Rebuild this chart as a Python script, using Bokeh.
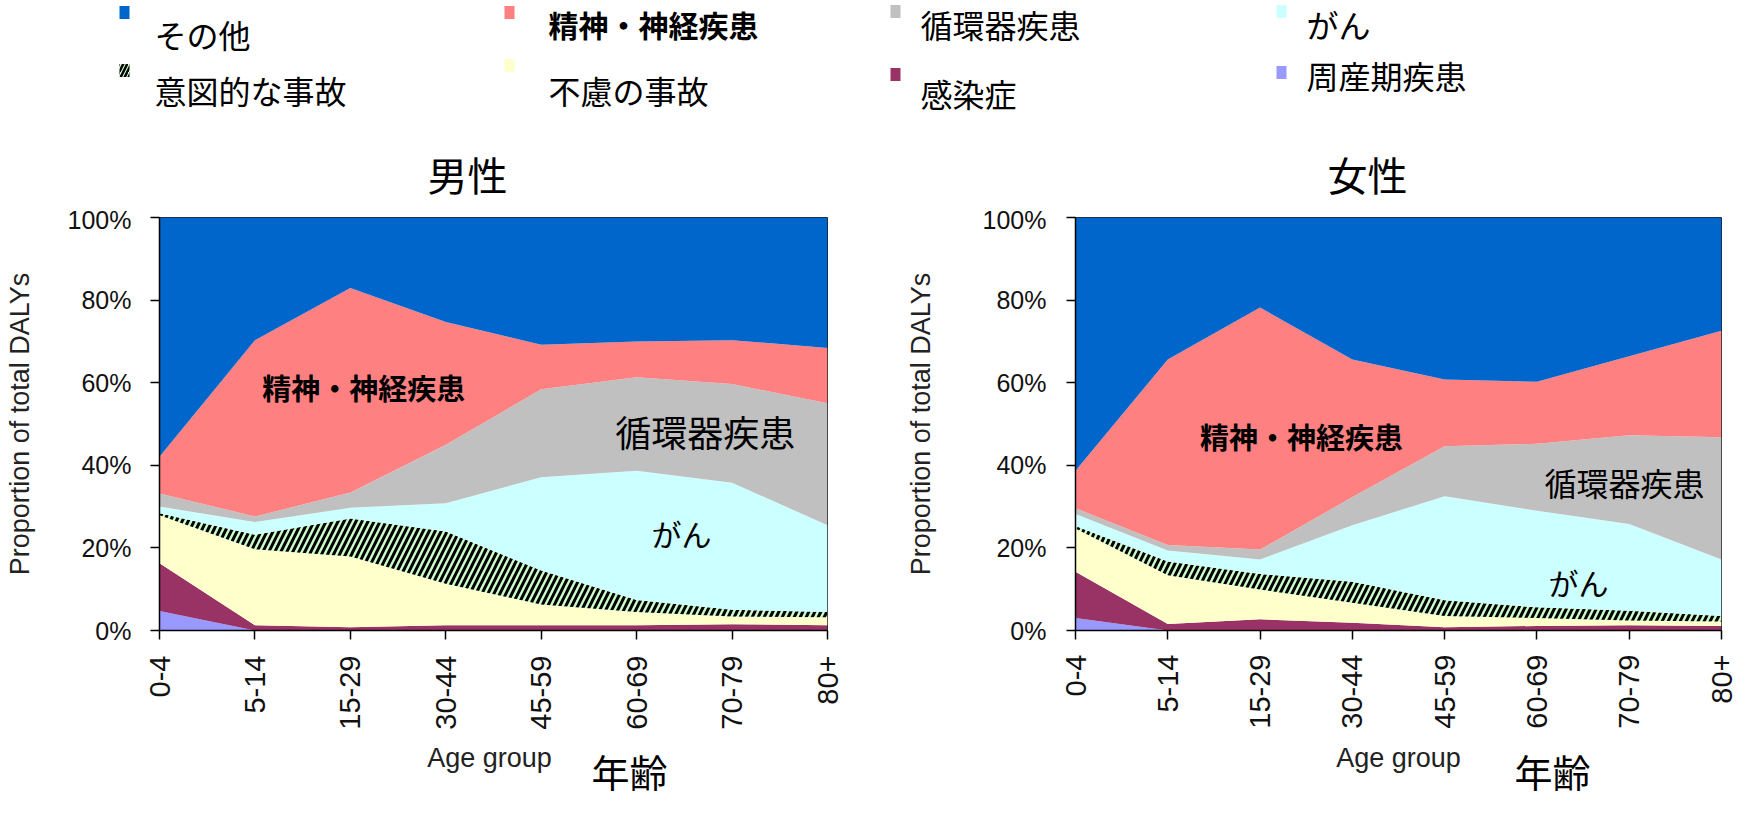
import math
from bokeh.plotting import figure
from bokeh.layouts import column, row
from bokeh.models import ColumnDataSource, Range1d, FixedTicker, NumeralTickFormatter
from bokeh.transform import stack
from bokeh.core.properties import value
from bokeh.embed import file_html
from bokeh.resources import INLINE

# ---------------- data ----------------
age_groups = ["0-4", "5-14", "15-29", "30-44", "45-59", "60-69", "70-79", "80+"]

# stack order, bottom to top
causes = ["perinatal", "infectious", "unintentional", "intentional",
          "cancer", "cvd", "neuro", "other"]
cause_names = {
    "other": "その他",
    "neuro": "精神・神経疾患",
    "cvd": "循環器疾患",
    "cancer": "がん",
    "intentional": "意図的な事故",
    "unintentional": "不慮の事故",
    "infectious": "感染症",
    "perinatal": "周産期疾患",
}
cause_colors = {
    "other": "#0066CC",
    "neuro": "#FF8080",
    "cvd": "#C0C0C0",
    "cancer": "#CCFFFF",
    "intentional": "#CCFFCC",
    "unintentional": "#FFFFCC",
    "infectious": "#993366",
    "perinatal": "#9999FF",
}

# share of total DALYs (%) - male
male_perinatal = [4.7, 0.0, 0.0, 0.0, 0.0, 0.0, 0.0, 0.0]
male_infectious = [11.6, 1.3, 0.8, 1.3, 1.3, 1.3, 1.5, 1.3]
male_unintentional = [11.6, 18.4, 17.1, 10.0, 5.0, 3.2, 1.9, 1.9]
male_intentional = [0.5, 3.5, 9.2, 12.7, 8.2, 2.9, 1.6, 1.3]
male_cancer = [1.6, 3.1, 2.6, 6.8, 22.6, 31.3, 30.8, 21.0]
male_cvd = [3.2, 1.3, 3.7, 14.2, 21.3, 22.6, 23.9, 29.5]
male_neuro = [8.9, 42.7, 49.5, 29.7, 10.8, 8.7, 10.6, 13.4]
male_other = [57.9, 29.7, 17.1, 25.3, 30.8, 30.0, 29.7, 31.6]

# share of total DALYs (%) - female
female_perinatal = [3.0, 0.0, 0.0, 0.0, 0.0, 0.0, 0.0, 0.0]
female_infectious = [11.2, 1.6, 2.7, 1.9, 0.8, 1.1, 1.3, 1.1]
female_unintentional = [10.5, 11.8, 7.2, 4.8, 2.7, 1.9, 1.1, 1.1]
female_intentional = [0.6, 3.3, 3.8, 5.1, 3.8, 2.6, 2.4, 1.3]
female_cancer = [2.9, 2.7, 3.5, 13.7, 25.2, 23.4, 21.0, 13.7]
female_cvd = [1.4, 1.3, 2.4, 6.8, 12.1, 16.2, 21.5, 29.6]
female_neuro = [9.1, 44.9, 58.6, 33.3, 16.2, 15.0, 19.1, 25.8]
female_other = [61.3, 34.4, 21.8, 34.4, 39.2, 39.8, 33.6, 27.4]

male = {"perinatal": male_perinatal, "infectious": male_infectious,
        "unintentional": male_unintentional, "intentional": male_intentional,
        "cancer": male_cancer, "cvd": male_cvd, "neuro": male_neuro, "other": male_other}
female = {"perinatal": female_perinatal, "infectious": female_infectious,
          "unintentional": female_unintentional, "intentional": female_intentional,
          "cancer": female_cancer, "cvd": female_cvd, "neuro": female_neuro, "other": female_other}

legend_order = [["other", "neuro", "cvd", "cancer"],
                ["intentional", "unintentional", "infectious", "perinatal"]]

JP = "Noto Sans CJK JP"
LAT = "Liberation Sans"
W = 1737

HATCH = dict(hatch_pattern="/", hatch_color="black", hatch_weight=3, hatch_scale=12)

# ---------------- header (legend + titles) ----------------
HEAD_H = 205
head = figure(width=W, height=HEAD_H, x_range=Range1d(0, W), y_range=Range1d(HEAD_H, 0),
              x_axis_type=None, y_axis_type=None, toolbar_location=None,
              output_backend="svg", min_border=0, outline_line_color=None)
head.grid.visible = False

# legend layout (screen px inside header)
col_marker_x = [124, 509, 895, 1281]
col_text_x = [154, 548, 920, 1306]
marker_y = [[12, 12, 11, 11], [70, 65, 74, 72]]
text_y = [[33, 23, 23, 23], [89, 89, 92, 74]]
for r, items in enumerate(legend_order):
    for c, key in enumerate(items):
        extra = dict(HATCH, hatch_scale=8, hatch_weight=2.5) if key == "intentional" else {}
        head.rect(x=[col_marker_x[c]], y=[marker_y[r][c]], width=10, height=13,
                  fill_color=cause_colors[key], line_color=None, **extra)
        bold = key == "neuro"
        head.text(x=[col_text_x[c]], y=[text_y[r][c]], text=[cause_names[key]],
                  text_font=value(JP), text_font_size="30px" if bold else "32px",
                  text_font_style="bold" if bold else "normal",
                  text_align="left", text_baseline="middle", text_color="black")

head.text(x=[467, 1367], y=[173, 173], text=["男性", "女性"], text_font=value(JP),
          text_font_size="40px", text_align="center", text_baseline="middle",
          text_color="black")


# ---------------- charts ----------------
def make_chart(data, width, height, mb_left, mb_right, mb_top, mb_bottom,
               tick_standoff_y, label_standoff_y, tick_standoff_x, labels, sizes):
    src = ColumnDataSource({"x": list(range(len(age_groups))),
                            **{k: [v / 100.0 for v in data[k]] for k in causes}})
    p = figure(width=width, height=height, x_range=Range1d(0, 7), y_range=Range1d(0, 1),
               toolbar_location=None, output_backend="svg",
               min_border_left=mb_left, min_border_right=mb_right,
               min_border_top=mb_top, min_border_bottom=mb_bottom,
               outline_line_color="#222222", outline_line_width=1)
    p.grid.visible = False
    for i, key in enumerate(causes):
        y1 = 0 if i == 0 else stack(*causes[:i])
        extra = HATCH if key == "intentional" else {}
        p.varea(x="x", y1=y1, y2=stack(*causes[:i + 1]), source=src,
                fill_color=cause_colors[key], **extra)

    ya = p.yaxis[0]
    ya.ticker = FixedTicker(ticks=[0, 0.2, 0.4, 0.6, 0.8, 1.0])
    ya.formatter = NumeralTickFormatter(format="0%")
    ya.major_tick_out = 9
    ya.major_tick_in = 0
    ya.minor_tick_out = 0
    ya.minor_tick_in = 0
    ya.major_label_standoff = tick_standoff_y
    ya.major_label_text_font = LAT
    ya.major_label_text_font_size = "25px"
    ya.major_label_text_color = "#111111"
    ya.axis_label = "Proportion of total DALYs"
    ya.axis_label_text_font = LAT
    ya.axis_label_text_font_size = "27px"
    ya.axis_label_text_font_style = "normal"
    ya.axis_label_text_color = "#222222"
    ya.axis_label_standoff = label_standoff_y
    ya.axis_line_width = 1.5
    ya.major_tick_line_width = 1.5

    xa = p.xaxis[0]
    xa.ticker = FixedTicker(ticks=list(range(len(age_groups))))
    xa.major_label_overrides = {i: g for i, g in enumerate(age_groups)}
    xa.major_label_orientation = math.pi / 2
    xa.major_tick_out = 9
    xa.major_tick_in = 0
    xa.minor_tick_out = 0
    xa.minor_tick_in = 0
    xa.major_label_standoff = tick_standoff_x
    xa.major_label_text_font = LAT
    xa.major_label_text_font_size = "29px"
    xa.major_label_text_color = "#111111"
    xa.axis_line_width = 1.5
    xa.major_tick_line_width = 1.5

    (nx, ny), (cx, cy), (gx, gy) = labels
    ns, cs, gs = sizes
    p.text(x=[nx], y=[ny], text=[cause_names["neuro"]], text_font=value(JP),
           text_font_size=ns, text_font_style="bold", text_align="center",
           text_baseline="middle", text_color="black")
    p.text(x=[cx], y=[cy], text=[cause_names["cvd"]], text_font=value(JP),
           text_font_size=cs, text_align="center", text_baseline="middle",
           text_color="black")
    p.text(x=[gx], y=[gy], text=[cause_names["cancer"]], text_font=value(JP),
           text_font_size=gs, text_align="center", text_baseline="middle",
           text_color="black")
    return p


CH_H = 535
left = make_chart(male, 900, CH_H, 159, 73, 10, 100, 19, 30, 16,
                  [(2.14, 0.59), (5.72, 0.482), (5.47, 0.235)],
                  ("29px", "36px", "30px"))
right = make_chart(female, 837, CH_H, 175, 16, 12, 110, 20, 44, 15,
                   [(2.45, 0.47), (5.95, 0.36), (5.45, 0.118)],
                   ("29px", "32px", "30px"))

# ---------------- footer (axis titles) ----------------
FOOT_H = 58
foot = figure(width=W, height=FOOT_H, x_range=Range1d(0, W), y_range=Range1d(FOOT_H, 0),
              x_axis_type=None, y_axis_type=None, toolbar_location=None,
              output_backend="svg", min_border=0, outline_line_color=None)
foot.grid.visible = False
foot.text(x=[489, 1398], y=[17, 17], text=["Age group", "Age group"], text_font=value(LAT),
          text_font_size="27px", text_align="center", text_baseline="middle",
          text_color="#222222")
foot.text(x=[629, 1552], y=[30, 30], text=["年齢", "年齢"], text_font=value(JP),
          text_font_size="38px", text_align="center", text_baseline="middle",
          text_color="black")

layout = column(head, row(left, right), foot)
open("out.html", "w").write(file_html(layout, INLINE))
